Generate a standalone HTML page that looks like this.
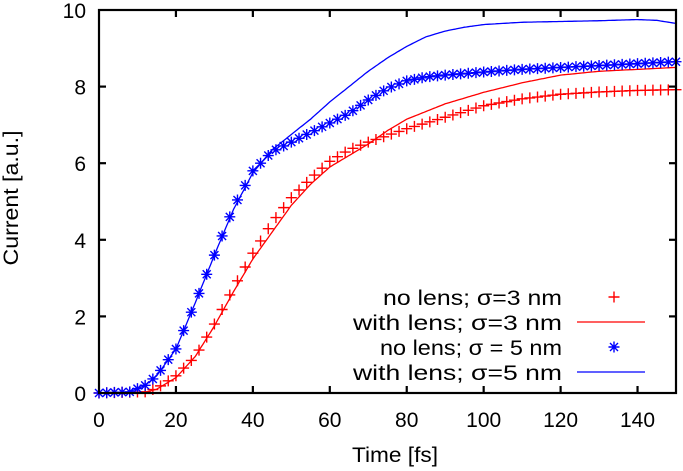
<!DOCTYPE html>
<html><head><meta charset="utf-8"><style>
body{margin:0;background:#fff}
svg{display:block;font-family:"Liberation Sans",sans-serif}
</style></head><body>
<svg id="s" width="683" height="471" viewBox="0 0 683 471" xmlns="http://www.w3.org/2000/svg">
<g id="data"></g>
<rect x="99" y="10" width="577" height="383" fill="none" stroke="#000" stroke-width="2.2"/>
<g id="ticks" stroke="#000" stroke-width="2.2"></g>
<g id="lbl" font-size="21" fill="#000"></g>
<text x="0" y="0" font-size="21" text-anchor="middle" textLength="135" lengthAdjust="spacingAndGlyphs" transform="translate(18,198) rotate(-90)">Current [a.u.]</text>
<text x="395" y="462" font-size="21" text-anchor="middle" textLength="86" lengthAdjust="spacingAndGlyphs">Time [fs]</text>
<g font-size="21">
<text x="383" y="305" textLength="179" lengthAdjust="spacingAndGlyphs">no lens; σ=3 nm</text>
<text x="353" y="330" textLength="209" lengthAdjust="spacingAndGlyphs">with lens; σ=3 nm</text>
<text x="380" y="355" textLength="182" lengthAdjust="spacingAndGlyphs">no lens; σ = 5 nm</text>
<text x="353" y="380" textLength="209" lengthAdjust="spacingAndGlyphs">with lens; σ=5 nm</text>
</g>
<line x1="577" y1="322" x2="645" y2="322" stroke="#f00" stroke-width="1.3"/>
<line x1="577" y1="372" x2="645" y2="372" stroke="#00f" stroke-width="1.3"/>
<g id="leg"></g>
</svg>
<script>
var X=t=>99+t*577/150, Y=v=>393-v*38.3;
var NS="http://www.w3.org/2000/svg";
function el(p,n,a){var e=document.createElementNS(NS,n);for(var k in a)e.setAttribute(k,a[k]);p.appendChild(e);return e;}
var ticks=document.getElementById('ticks'),lbl=document.getElementById('lbl');
for(var t=0;t<=140;t+=20){var x=X(t);
 if(t>0&&t<150){el(ticks,'line',{x1:x,y1:393,x2:x,y2:386});el(ticks,'line',{x1:x,y1:10,x2:x,y2:17});}
 el(lbl,'text',{x:x,y:427,'text-anchor':'middle'}).textContent=t;}
for(var v=0;v<=10;v+=2){var y=Y(v);
 if(v>0&&v<10){el(ticks,'line',{x1:99,y1:y,x2:106,y2:y});el(ticks,'line',{x1:676,y1:y,x2:669,y2:y});}
 el(lbl,'text',{x:86,y:y+8,'text-anchor':'end'}).textContent=v;}
function interp(k,t){for(var i=1;i<k.length;i++){if(t<=k[i][0]){var a=k[i-1],b=k[i],f=(t-a[0])/(b[0]-a[0]);return a[1]+f*(b[1]-a[1]);}}return k[k.length-1][1];}
var BL=[[0,0],[8,0.03],[12,0.2],[15,0.45],[20,1.15],[25,2.35],[30,3.6],[35,4.8],[40,5.75],[45,6.35],[50,6.75],[55,7.15],[60,7.6],[65,8.0],[70,8.4],[75,8.75],[80,9.05],[85,9.3],[90,9.45],[95,9.55],[100,9.62],[110,9.68],[120,9.7],[130,9.72],[140,9.75],[145,9.73],[150,9.65]];
var BS=[[0,0],[8,0.03],[12,0.2],[15,0.45],[20,1.15],[25,2.35],[30,3.6],[35,4.85],[40,5.8],[42,6.0],[45,6.3],[50,6.55],[55,6.8],[60,7.05],[65,7.3],[70,7.65],[75,7.95],[80,8.15],[85,8.25],[90,8.3],[100,8.38],[110,8.45],[120,8.5],[130,8.55],[140,8.6],[150,8.65]];
var RL=[[0,0],[12,0.02],[15,0.1],[20,0.4],[25,0.95],[30,1.75],[35,2.65],[40,3.5],[45,4.2],[50,4.9],[55,5.45],[60,5.9],[65,6.2],[70,6.5],[75,6.85],[80,7.15],[90,7.55],[100,7.85],[110,8.1],[120,8.3],[130,8.4],[140,8.45],[150,8.5]];
var RP=[[0,0],[12,0.03],[15,0.12],[20,0.45],[25,0.95],[30,1.8],[35,2.75],[40,3.65],[45,4.45],[50,5.1],[55,5.6],[60,6.05],[65,6.35],[70,6.55],[80,6.9],[90,7.2],[100,7.5],[110,7.68],[120,7.8],[130,7.86],[140,7.9],[150,7.92]];
var g=document.getElementById('data');
function line(k,c){var d='';for(var t=0;t<=150;t+=0.5){d+=(t?'L':'M')+X(t).toFixed(1)+' '+Y(interp(k,t)).toFixed(1);}el(g,'path',{d:d,fill:'none',stroke:c,'stroke-width':1.3});}
function plus(p,x,y,c){el(p,'path',{d:'M'+(x-5.5)+' '+y+'h11M'+x+' '+(y-5.5)+'v11',stroke:c,'stroke-width':1.4});}
function star(p,x,y,c){el(p,'path',{d:'M'+(x-5.5)+' '+y+'h11M'+x+' '+(y-5.5)+'v11M'+(x-4)+' '+(y-4)+'l8 8M'+(x-4)+' '+(y+4)+'l8 -8',stroke:c,'stroke-width':1.4});}
line(RL,'#f00');line(BL,'#00f');
for(var t=0;t<=150;t+=2){plus(g,X(t),Y(interp(RP,t)),'#f00');}
for(var t=0;t<=150;t+=2){star(g,X(t),Y(interp(BS,t)),'#00f');}
var lg=document.getElementById('leg');plus(lg,614,297,'#f00');star(lg,614,347,'#00f');
</script>
</body></html>
